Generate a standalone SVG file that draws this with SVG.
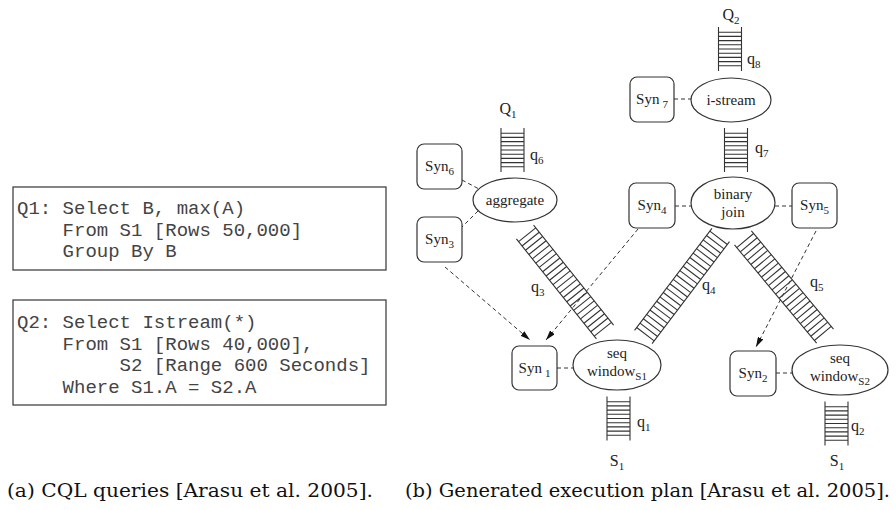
<svg xmlns="http://www.w3.org/2000/svg" width="896" height="510" viewBox="0 0 896 510">
<style>
.bg{fill:#fff}
.qbox{fill:none;stroke:#444;stroke-width:1.3}
.mono{font-family:"Liberation Mono","Courier New",monospace;font-size:19px;fill:#444;white-space:pre}
.node{fill:#fff;stroke:#333;stroke-width:1.2}
.t{font-family:"Liberation Serif","Times New Roman",serif;font-size:15px;fill:#222}
.lab{font-family:"Liberation Serif","Times New Roman",serif;font-size:16px;fill:#222}
.sub{font-size:11px}
.lad{fill:none;stroke:#333;stroke-width:1.1}
.dash{fill:none;stroke:#333;stroke-width:1;stroke-dasharray:4 3}
.cap{font-family:"DejaVu Serif","Liberation Serif",serif;font-size:18px;fill:#111}
</style>
<defs>
<marker id="ah" viewBox="0 0 10 6" refX="10" refY="3" markerWidth="10" markerHeight="6" markerUnits="userSpaceOnUse" orient="auto">
<path d="M0,0 L10,3 L0,6 Z" fill="#111"/>
</marker>
<g id="ladV" class="lad">
<path d="M-11.5,-22V22M11.5,-22V22"/>
<path d="M-11.5,-16.8H11.5M-11.5,-12.6H11.5M-11.5,-8.4H11.5M-11.5,-4.2H11.5M-11.5,0H11.5M-11.5,4.2H11.5M-11.5,8.4H11.5M-11.5,12.6H11.5M-11.5,16.8H11.5"/>
</g>
<g id="ladD" class="lad">
<path d="M-64,-11H64M-64,11H64"/>
<path d="M-60.5,-11V11M-55,-11V11M-49.5,-11V11M-44,-11V11M-38.5,-11V11M-33,-11V11M-27.5,-11V11M-22,-11V11M-16.5,-11V11M-11,-11V11M-5.5,-11V11M0,-11V11M5.5,-11V11M11,-11V11M16.5,-11V11M22,-11V11M27.5,-11V11M33,-11V11M38.5,-11V11M44,-11V11M49.5,-11V11M55,-11V11M60.5,-11V11"/>
</g>
</defs>
<rect class="bg" x="0" y="0" width="896" height="510"/>

<g id="query1">
<rect class="qbox" x="13" y="187" width="373" height="83"/>
<text class="mono" x="17" y="214">Q1: Select B, max(A)</text>
<text class="mono" x="17" y="235.5">    From S1 [Rows 50,000]</text>
<text class="mono" x="17" y="257">    Group By B</text>
</g>
<g id="query2">
<rect class="qbox" x="13" y="300" width="373" height="105"/>
<text class="mono" x="17" y="328">Q2: Select Istream(*)</text>
<text class="mono" x="17" y="349.5">    From S1 [Rows 40,000],</text>
<text class="mono" x="17" y="371">         S2 [Range 600 Seconds]</text>
<text class="mono" x="17" y="392.5">    Where S1.A = S2.A</text>
</g>

<g id="connectors">
<line class="dash" x1="462" y1="180" x2="479" y2="189"/>
<line class="dash" x1="478" y1="211" x2="462" y2="227"/>
<line class="dash" x1="674" y1="99" x2="691" y2="99"/>
<line class="dash" x1="675" y1="206" x2="691" y2="206"/>
<line class="dash" x1="775" y1="206" x2="792" y2="206"/>
<line class="dash" x1="557" y1="368" x2="573" y2="368"/>
<line class="dash" x1="776" y1="373" x2="792" y2="373"/>
<line class="dash" x1="445" y1="267" x2="530" y2="340" marker-end="url(#ah)"/>
<line class="dash" x1="638" y1="229" x2="546" y2="340" marker-end="url(#ah)"/>
<line class="dash" x1="816" y1="231" x2="756" y2="347" marker-end="url(#ah)"/>
</g>

<g id="queues">
<use href="#ladV" x="512.5" y="150"/>
<use href="#ladV" x="730" y="49"/>
<use href="#ladV" x="736" y="150"/>
<use href="#ladV" x="618.5" y="418.5"/>
<use href="#ladV" x="836.5" y="423.5"/>
<use href="#ladD" transform="translate(565,282) rotate(51.3)"/>
<use href="#ladD" transform="translate(682,286) rotate(127.2)"/>
<use href="#ladD" transform="translate(784,287) rotate(50.1)"/>
<text class="lab" x="508" y="114" text-anchor="middle">Q<tspan class="sub" dy="4">1</tspan></text>
<text class="lab" x="530" y="160">q<tspan class="sub" dy="4">6</tspan></text>
<text class="lab" x="731" y="20" text-anchor="middle">Q<tspan class="sub" dy="4">2</tspan></text>
<text class="lab" x="747" y="64">q<tspan class="sub" dy="4">8</tspan></text>
<text class="lab" x="755" y="153">q<tspan class="sub" dy="4">7</tspan></text>
<text class="lab" x="531" y="292">q<tspan class="sub" dy="4">3</tspan></text>
<text class="lab" x="702" y="290">q<tspan class="sub" dy="4">4</tspan></text>
<text class="lab" x="810" y="287">q<tspan class="sub" dy="4">5</tspan></text>
<text class="lab" x="637" y="427">q<tspan class="sub" dy="4">1</tspan></text>
<text class="lab" x="851" y="431">q<tspan class="sub" dy="4">2</tspan></text>
<text class="lab" x="617" y="466" text-anchor="middle">S<tspan class="sub" dy="4">1</tspan></text>
<text class="lab" x="837" y="466" text-anchor="middle">S<tspan class="sub" dy="4">1</tspan></text>
</g>

<g id="aggregate">
<ellipse class="node" cx="515" cy="200" rx="42" ry="22"/>
<text class="t" x="515" y="205" text-anchor="middle">aggregate</text>
</g>
<g id="istream">
<ellipse class="node" cx="731" cy="100" rx="40" ry="22"/>
<text class="t" x="731" y="105" text-anchor="middle">i-stream</text>
</g>
<g id="binaryjoin">
<ellipse class="node" cx="733" cy="203" rx="42" ry="26"/>
<text class="t" x="733" y="199" text-anchor="middle">binary</text>
<text class="t" x="733" y="217" text-anchor="middle">join</text>
</g>
<g id="seqwindowS1">
<ellipse class="node" cx="617" cy="365" rx="44" ry="25"/>
<text class="t" x="617" y="358" text-anchor="middle">seq</text>
<text class="t" x="617" y="376" text-anchor="middle">window<tspan class="sub" dy="4">S1</tspan></text>
</g>
<g id="seqwindowS2">
<ellipse class="node" cx="840" cy="370" rx="48" ry="25"/>
<text class="t" x="840" y="363" text-anchor="middle">seq</text>
<text class="t" x="840" y="381" text-anchor="middle">window<tspan class="sub" dy="4">S2</tspan></text>
</g>
<g id="syn6">
<rect class="node" x="417" y="144" width="45" height="45" rx="7"/>
<text class="t" x="439.5" y="171" text-anchor="middle">Syn<tspan class="sub" dy="4">6</tspan></text>
</g>
<g id="syn3">
<rect class="node" x="417" y="217" width="45" height="45" rx="7"/>
<text class="t" x="439.5" y="244" text-anchor="middle">Syn<tspan class="sub" dy="4">3</tspan></text>
</g>
<g id="syn7">
<rect class="node" x="630" y="77" width="44" height="45" rx="7"/>
<text class="t" x="652" y="104" text-anchor="middle">Syn<tspan class="sub" dx="3" dy="4">7</tspan></text>
</g>
<g id="syn4">
<rect class="node" x="629" y="183" width="46" height="45" rx="7"/>
<text class="t" x="652" y="210" text-anchor="middle">Syn<tspan class="sub" dy="4">4</tspan></text>
</g>
<g id="syn5">
<rect class="node" x="792" y="183" width="45" height="45" rx="7"/>
<text class="t" x="814.5" y="210" text-anchor="middle">Syn<tspan class="sub" dy="4">5</tspan></text>
</g>
<g id="syn1">
<rect class="node" x="512" y="346" width="45" height="44" rx="7"/>
<text class="t" x="534.5" y="373" text-anchor="middle">Syn<tspan class="sub" dx="3" dy="4">1</tspan></text>
</g>
<g id="syn2">
<rect class="node" x="730" y="351" width="46" height="45" rx="7"/>
<text class="t" x="753" y="378" text-anchor="middle">Syn<tspan class="sub" dy="4">2</tspan></text>
</g>

<g id="captions">
<text class="cap" x="7" y="497" textLength="366" lengthAdjust="spacingAndGlyphs">(a) CQL queries [Arasu et al. 2005].</text>
<text class="cap" x="405" y="497" textLength="485" lengthAdjust="spacingAndGlyphs">(b) Generated execution plan [Arasu et al. 2005].</text>
</g>
</svg>
